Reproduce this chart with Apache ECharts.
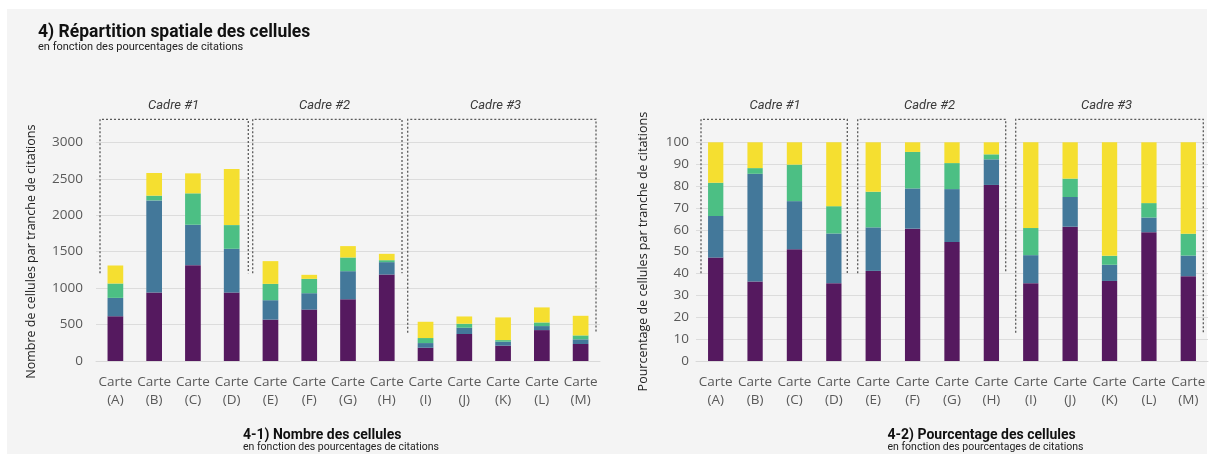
<!DOCTYPE html>
<html>
<head>
<meta charset="utf-8">
<script src="https://cdn.jsdelivr.net/npm/echarts@6/dist/echarts.min.js"></script>
<style>
html,body{margin:0;padding:0;background:#ffffff;}
#chart{width:1209px;height:454px;}
</style>
</head>
<body>
<div id="chart"></div>
<script>
// ---- Data ----
const categories = ['A','B','C','D','E','F','G','H','I','J','K','L','M'];
const seriesNames = ['Tranche 1','Tranche 2','Tranche 3','Tranche 4'];
const colors = ['#55195f','#43789a','#4cbf84','#f5df30'];

// 4-1) Nombre des cellules (segments of each stacked bar)
const count1 = [614, 939, 1315, 939, 568, 705, 847, 1186, 182, 370, 210, 424, 233];
const count2 = [252, 1264, 554, 600, 266, 225, 385, 170, 64, 86, 55, 55, 64];
const count3 = [197, 65, 431, 325, 224, 197, 188, 27, 69, 55, 22, 50, 54];
const count4 = [247, 311, 274, 770, 312, 55, 156, 87, 223, 100, 311, 206, 269];

// 4-2) Pourcentage des cellules (segments)
const pct1 = [47.3, 36.3, 51.1, 35.6, 41.2, 60.5, 54.4, 80.5, 35.6, 61.4, 36.6, 58.9, 38.8];
const pct2 = [19.0, 49.3, 22.0, 22.7, 19.9, 18.4, 24.2, 11.7, 12.8, 13.6, 7.4, 6.7, 9.4];
const pct3 = [15.2, 2.6, 16.7, 12.5, 16.3, 16.7, 11.9, 2.3, 12.4, 8.4, 4.1, 6.6, 10.0];
const pct4 = [18.5, 11.8, 10.2, 29.2, 22.6, 4.4, 9.5, 5.5, 39.2, 16.6, 51.9, 27.8, 41.8];

const countTicks = { min: 0, max: 3000, interval: 500 };
const pctTicks = { min: 0, max: 100, interval: 10 };
const cadreLabels = ['Cadre #1','Cadre #2','Cadre #3'];

// ---- Chart ----
const chart = echarts.init(document.getElementById('chart'));
const countData = [count1, count2, count3, count4];
const pctData = [pct1, pct2, pct3, pct4];

const labelStyle = { color: '#595959', fontFamily: 'Open Sans', fontSize: 13.5 };

function xAxisCfg(gridIndex) {
  return {
    type: 'category', gridIndex: gridIndex, data: categories,
    axisLine: { show: true, lineStyle: { color: '#d9d9d9' } },
    axisTick: { show: false },
    axisLabel: Object.assign({ interval: 0, margin: 12, lineHeight: 18,
      formatter: v => 'Carte\n(' + v + ')' }, labelStyle)
  };
}
function yAxisCfg(gridIndex, ticks, name, gap, margin) {
  return {
    type: 'value', gridIndex: gridIndex, min: ticks.min, max: ticks.max, interval: ticks.interval,
    name: name, nameLocation: 'middle', nameGap: gap,
    nameTextStyle: { color: '#222', fontFamily: 'Open Sans', fontSize: 12.5 },
    axisLine: { show: false }, axisTick: { show: false },
    axisLabel: Object.assign({ margin: margin, formatter: v => String(v) }, labelStyle),
    splitLine: { lineStyle: { color: '#dcdcdc', width: 1 } }
  };
}

const series = [];
countData.forEach((d, i) => series.push({
  name: seriesNames[i], type: 'bar', stack: 'count', xAxisIndex: 0, yAxisIndex: 0,
  data: d, barWidth: 15.7, itemStyle: { color: colors[i] }
}));
pctData.forEach((d, i) => series.push({
  name: seriesNames[i], type: 'bar', stack: 'pct', xAxisIndex: 1, yAxisIndex: 1,
  data: d, barWidth: 15.3, itemStyle: { color: colors[i] }
}));

function box(l, r, top, bottom) {
  return { type: 'polyline', silent: true, z: 1,
    shape: { points: [[l, bottom], [l, top], [r, top], [r, bottom]] },
    style: { stroke: '#5a5a5a', lineWidth: 1.3, lineDash: [2, 2], fill: null } };
}
function cadreText(x, txt) {
  return { type: 'text', x: x, y: 106, silent: true,
    style: { text: txt, fill: '#3a3a3a', font: 'italic 13px Roboto', align: 'center', verticalAlign: 'middle' } };
}

const graphics = [
  { type: 'rect', silent: true, z: -10, shape: { x: 7, y: 9, width: 1200, height: 445 }, style: { fill: '#f4f4f4' } },
  box(100, 248.3, 119.3, 273.3), box(252.7, 402, 119.3, 273.3), box(407.7, 596, 119.3, 332.7),
  box(701, 847.3, 119.3, 273.3), box(857.7, 1005.7, 119.3, 273.3), box(1015.7, 1203.3, 119.3, 332.7),
  cadreText(173.5, cadreLabels[0]), cadreText(324.5, cadreLabels[1]), cadreText(495.5, cadreLabels[2]),
  cadreText(775, cadreLabels[0]), cadreText(929.5, cadreLabels[1]), cadreText(1106.5, cadreLabels[2])
];

chart.setOption({
  backgroundColor: 'transparent',
  animation: false,
  title: [
    { text: '4) Répartition spatiale des cellules', subtext: 'en fonction des pourcentages de citations',
      left: 33, top: 19, itemGap: 0,
      textStyle: { fontFamily: 'Roboto', fontWeight: 'bold', fontSize: 17.5, color: '#111' },
      subtextStyle: { fontFamily: 'Roboto', fontSize: 11, color: '#222' } },
    { text: '4-1) Nombre des cellules', subtext: 'en fonction des pourcentages de citations',
      left: 238, top: 423, itemGap: 0,
      textStyle: { fontFamily: 'Roboto', fontWeight: 'bold', fontSize: 14, color: '#111' },
      subtextStyle: { fontFamily: 'Roboto', fontSize: 10.5, color: '#222' } },
    { text: '4-2) Pourcentage des cellules', subtext: 'en fonction des pourcentages de citations',
      left: 882.5, top: 423, itemGap: 0,
      textStyle: { fontFamily: 'Roboto', fontWeight: 'bold', fontSize: 14, color: '#111' },
      subtextStyle: { fontFamily: 'Roboto', fontSize: 10.5, color: '#222' } }
  ],
  grid: [
    { left: 96, top: 142.3, width: 504, height: 218.7 },
    { left: 696, top: 142.3, width: 512, height: 218.7 }
  ],
  xAxis: [xAxisCfg(0), xAxisCfg(1)],
  yAxis: [
    yAxisCfg(0, countTicks, 'Nombre de cellules par tranche de citations', 58, 13),
    yAxisCfg(1, pctTicks, 'Pourcentage de cellules par tranche de citations', 46, 7)
  ],
  series: series,
  graphic: graphics
});
</script>
</body>
</html>
